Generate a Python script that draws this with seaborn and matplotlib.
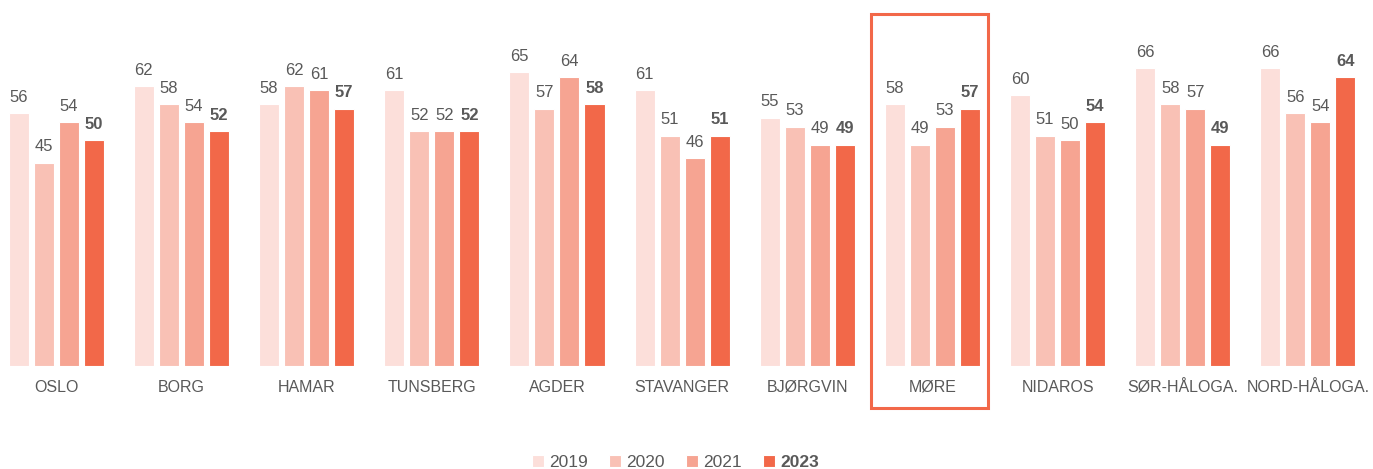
import pandas as pd
import matplotlib.pyplot as plt
import seaborn as sns
from matplotlib.patches import Rectangle

regions = ["OSLO", "BORG", "HAMAR", "TUNSBERG", "AGDER", "STAVANGER",
           "BJØRGVIN", "MØRE", "NIDAROS", "SØR-HÅLOGA.", "NORD-HÅLOGA."]
years = ["2019", "2020", "2021", "2023"]
v2019 = [56, 62, 58, 61, 65, 61, 55, 58, 60, 66, 66]
v2020 = [45, 58, 62, 52, 57, 51, 53, 49, 51, 58, 56]
v2021 = [54, 54, 61, 52, 64, 46, 49, 53, 50, 57, 54]
v2023 = [50, 52, 57, 52, 58, 51, 49, 57, 54, 49, 64]
highlight = "MØRE"

colors = ["#FCDFDA", "#F9C1B5", "#F6A492", "#F26849"]
text_color = "#595959"

rows = []
for y, vals in zip(years, [v2019, v2020, v2021, v2023]):
    for r, v in zip(regions, vals):
        rows.append({"region": r, "year": y, "value": v})
df = pd.DataFrame(rows)

sns.set_style("white")
plt.rcParams["font.family"] = ["Liberation Sans", "DejaVu Sans"]

fig = plt.figure(figsize=(13.73, 4.69), dpi=100)
ax = fig.add_axes([0.0, 0.2196, 1.0, 0.6934])

sns.barplot(data=df, x="region", y="value", hue="year", palette=colors,
            order=regions, hue_order=years, width=0.8, gap=0.2, saturation=1,
            edgecolor="white", linewidth=0.8, ax=ax)

for i, cont in enumerate(ax.containers):
    bold = years[i] == "2023"
    ax.bar_label(cont, fmt="%d", padding=6, fontsize=12, color=text_color,
                 fontweight="bold" if bold else "normal")

ax.set_ylim(0, 72)
ax.set_xlim(-0.45, len(regions) - 1 + 0.52)
ax.set_xlabel("")
ax.set_ylabel("")
ax.set_yticks([])
ax.tick_params(axis="x", length=0, pad=10, labelsize=11.5, labelcolor=text_color)
for s in ax.spines.values():
    s.set_visible(False)

# highlight box
hi = regions.index(highlight)
ax.add_patch(Rectangle((hi - 0.49, -9.3), 0.93, 87.3, fill=False,
                       edgecolor="#F26849", linewidth=2.2, clip_on=False))

handles, labels = ax.get_legend_handles_labels()
ax.legend_.remove()
leg = fig.legend(handles, labels, loc="lower center", bbox_to_anchor=(0.492, -0.035),
                 ncol=4, frameon=False, fontsize=12.5, handlelength=0.7,
                 handleheight=0.7, handletextpad=0.3, columnspacing=1.2,
                 labelcolor=text_color)
for t in leg.get_texts():
    if t.get_text() == "2023":
        t.set_fontweight("bold")

fig.savefig("out.png", dpi=100)
